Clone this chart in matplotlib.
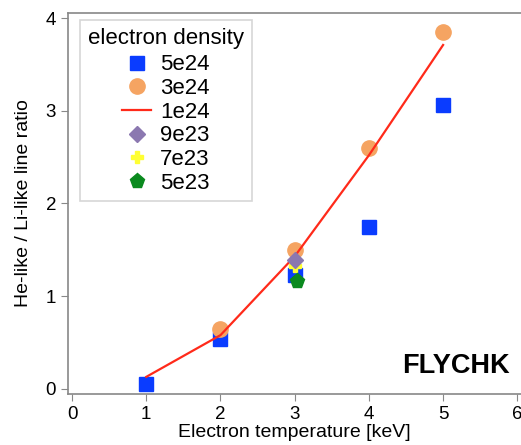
import matplotlib
matplotlib.use("Agg")
import matplotlib.pyplot as plt

plt.rcParams['font.family'] = ['Liberation Sans', 'DejaVu Sans']

temps = [1, 2, 3, 4, 5]
ratio_5e24 = [0.055, 0.54, 1.23, 1.75, 3.06]
temps_3e24 = [2, 3, 4, 5]
ratio_3e24 = [0.65, 1.50, 2.60, 3.85]
ratio_1e24 = [0.13, 0.58, 1.43, 2.52, 3.71]
temp_single = [3]
ratio_9e23 = [1.39]
ratio_7e23 = [1.33]
ratio_5e23 = [1.16]

fig = plt.figure(figsize=(5.21, 4.45), dpi=100)
ax = fig.add_axes([68/521, 1-394/445, 1-68/521, (394-13)/445])

ax.plot(temps, ratio_5e24, 's', color='#0a3cff', ms=10, label='5e24', zorder=3)
ax.plot(temps_3e24, ratio_3e24, 'o', color='#f5a462', ms=11, label='3e24', zorder=4)
ax.plot(temps, ratio_1e24, '-', color='#ff2a1a', lw=1.6, label='1e24', zorder=5)
ax.plot(temp_single, ratio_7e23, 'P', color='#ffff33', ms=9, label='7e23', zorder=6)
ax.plot(temp_single, ratio_9e23, 'D', color='#8b78b0', ms=8, label='9e23', zorder=7)
ax.plot([3.03], ratio_5e23, 'p', color='#0a8a1e', ms=11, label='5e23', zorder=8)

ax.set_xlim(-0.055, 6.05)
ax.set_ylim(-0.055, 4.055)
ax.set_xticks(range(0, 7))
ax.set_yticks(range(0, 5))
ax.tick_params(labelsize=13.5, length=5, color='#888888', direction='out')

for s in ['top', 'left', 'bottom']:
    ax.spines[s].set_color('#888888')
    ax.spines[s].set_linewidth(1.2)
ax.spines['right'].set_visible(False)

ax.set_xlabel('Electron temperature [keV]', fontsize=14, labelpad=1)
ax.set_ylabel('He-like / Li-like line ratio', fontsize=14, labelpad=10)

handles, labels = ax.get_legend_handles_labels()
order = ['5e24', '3e24', '1e24', '9e23', '7e23', '5e23']
hmap = dict(zip(labels, handles))
leg = ax.legend([hmap[k] for k in order], order, title='electron density',
                loc='upper left', bbox_to_anchor=(80/521, 1-20/445),
                bbox_transform=fig.transFigure, borderaxespad=0,
                fontsize=16, title_fontsize=16, frameon=True, fancybox=False,
                edgecolor='#cccccc', handlelength=1.3, handletextpad=0.4,
                labelspacing=0.12, borderpad=0.35, numpoints=1,
                markerscale=1.0)
leg.get_frame().set_linewidth(1.2)
leg._legend_box.sep = 4

ax.text(0.975, 0.04, 'FLYCHK', transform=ax.transAxes, ha='right', va='bottom',
        fontsize=19.5, fontweight='bold')

fig.savefig('out.png', dpi=100)
